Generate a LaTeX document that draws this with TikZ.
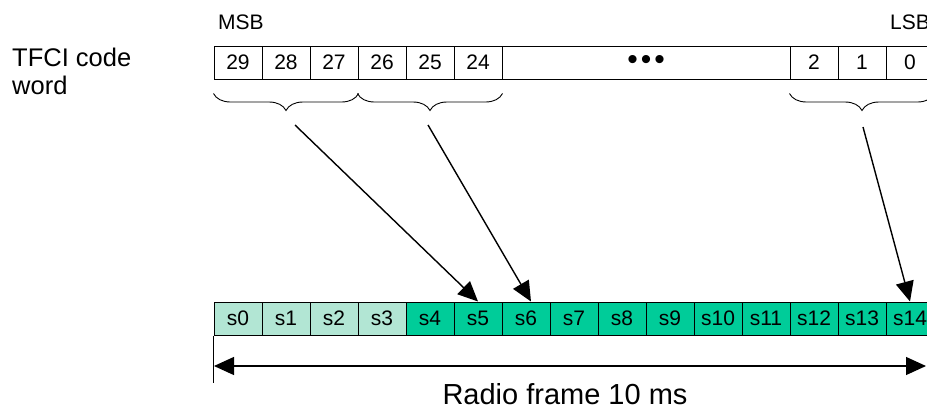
\documentclass[tikz,border=0pt]{standalone}
\usepackage{fontspec}
\setmainfont{Liberation Sans}
\usepackage{tikz}
\usetikzlibrary{positioning,calc,arrows.meta,decorations.pathreplacing}

\definecolor{slotgreen}{RGB}{0,204,153}
\definecolor{slotlight}{RGB}{178,230,212}

\begin{document}
\begin{tikzpicture}[x=1pt,y=-1pt,
  bitcell/.style={draw,line width=1pt,minimum width=48pt,minimum height=33pt,inner sep=0pt,font=\fontsize{21}{24}\selectfont},
  slotcell/.style={bitcell,fill=slotgreen},
  lightcell/.style={bitcell,fill=slotlight},
  bigarrow/.style={line width=1.4pt,-{Triangle[length=20pt,width=18pt]}},
  bitbrace/.style={decorate,decoration={brace,mirror,amplitude=17pt},line width=0.9pt}]

\useasboundingbox (0,0) rectangle (927,407);

% code word
\node[anchor=north west,inner sep=0pt,align=left,font=\fontsize{25.5}{28}\selectfont] (tfci) at (12,48) {TFCI code\\word};
\node[anchor=base west,inner sep=0pt,font=\fontsize{21}{24}\selectfont] (msb) at (218,29) {MSB};
\node[anchor=base west,inner sep=0pt,font=\fontsize{21}{24}\selectfont] (lsb) at (890,29) {LSB};

\node[bitcell] (b29) at (238,62.5) {29};
\node[bitcell] (b28) at (286,62.5) {28};
\node[bitcell] (b27) at (334,62.5) {27};
\node[bitcell] (b26) at (382,62.5) {26};
\node[bitcell] (b25) at (430,62.5) {25};
\node[bitcell] (b24) at (478,62.5) {24};
\node[bitcell,minimum width=288pt,font=\fontsize{30}{30}\selectfont] (bdots) at (646,62.5) {\textbullet\hspace{3pt}\textbullet\hspace{3pt}\textbullet};
\node[bitcell] (b2) at (814,62.5) {2};
\node[bitcell] (b1) at (862,62.5) {1};
\node[bitcell] (b0) at (910,62.5) {0};

\draw[bitbrace] ([yshift=-14pt]b29.south west) -- ([yshift=-14pt]b27.south east);
\draw[bitbrace] ([yshift=-14pt]b26.south west) -- ([yshift=-14pt]b24.south east);
\draw[bitbrace] ([yshift=-14pt]b2.south west) -- ([yshift=-14pt]b0.south east);

% radio frame slots
\node[lightcell] (s0) at (238,318.5) {s0};
\node[lightcell] (s1) at (286,318.5) {s1};
\node[lightcell] (s2) at (334,318.5) {s2};
\node[lightcell] (s3) at (382,318.5) {s3};
\node[slotcell] (s4) at (430,318.5) {s4};
\node[slotcell] (s5) at (478,318.5) {s5};
\node[slotcell] (s6) at (526,318.5) {s6};
\node[slotcell] (s7) at (574,318.5) {s7};
\node[slotcell] (s8) at (622,318.5) {s8};
\node[slotcell] (s9) at (670,318.5) {s9};
\node[slotcell] (s10) at (718,318.5) {s10};
\node[slotcell] (s11) at (766,318.5) {s11};
\node[slotcell] (s12) at (814,318.5) {s12};
\node[slotcell] (s13) at (862,318.5) {s13};
\node[slotcell] (s14) at (910,318.5) {s14};

\coordinate (tail1) at (295,125);
\coordinate (tail2) at (428,125);
\coordinate (tail3) at (863,127);

\draw[bigarrow] (tail1) -- (s5.north);
\draw[bigarrow] (tail2) -- ([xshift=5pt]s6.north);
\draw[bigarrow] (tail3) -- (s14.north);

% frame length
\coordinate (frameL) at (214,366);
\coordinate (frameR) at (926,366);
\draw[line width=1pt] (s0.south west) -- ++(0,47);
\draw[line width=1.2pt,{Triangle[length=20pt,width=18pt]}-{Triangle[length=20pt,width=18pt]}] (frameL) -- (frameR);
\node[anchor=base,inner sep=0pt,font=\fontsize{29}{32}\selectfont] (frame) at (565,404) {Radio frame 10 ms};
\end{tikzpicture}
\end{document}
